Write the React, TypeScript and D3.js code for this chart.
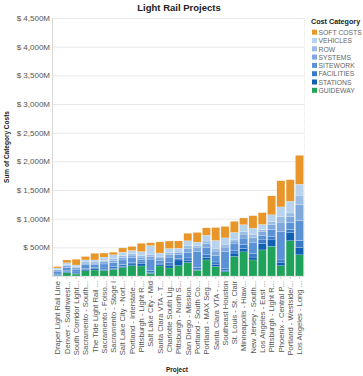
import * as d3 from "d3";
import { useEffect, useRef } from "react";

const projects = [
  "Draper Light Rail Line", "Denver - Southwest...", "South Corridor Light...", "Sacramento - South...",
  "The Tide Light Rail ...", "Sacramento - Folso...", "Sacramento - Stage I", "Salt Lake City - Nort...",
  "Portland - Interstate...", "Pittsburgh - Light R...", "Salt Lake City - Mid", "Santa Clara VTA - T...",
  "Charlotte South Lig...", "Pittsburgh - North S...", "San Diego - Mission...", "Portland - South Co...",
  "Portland - MAX Seg...", "Santa Clara VTA - ...", "Southeast Houston", "St. Louis - St. Clair",
  "Minneapolis - Hiaw...", "New Jersey - South...", "Los Angeles - East ...", "Pittsburgh - Light R...",
  "Phoenix - Central P...", "Portland - Westside/...", "Los Angeles - Long ...",
];

// stacking order, bottom to top
const categories = ["GUIDEWAY", "STATIONS", "FACILITIES", "SITEWORK", "SYSTEMS", "ROW", "VEHICLES", "SOFT COSTS"];
const colors = ["#1fa35b", "#0f5fb3", "#3a7bc8", "#5b92d6", "#7fa8dc", "#9bbde4", "#b8d3ee", "#e8962a"];

// values in $M, one per project
const guideway = [10, 60, 35, 90, 105, 95, 115, 145, 180, 175, 45, 175, 140, 180, 235, 100, 280, 165, 75, 340, 421, 280, 455, 515, 180, 615, 370];
const stations = [10, 20, 15, 25, 20, 20, 20, 25, 30, 40, 20, 20, 50, 100, 30, 20, 40, 30, 20, 60, 60, 50, 115, 115, 60, 140, 130];
const facilities = [15, 20, 20, 20, 20, 25, 25, 30, 30, 30, 30, 30, 40, 30, 50, 30, 50, 50, 30, 50, 70, 60, 60, 60, 40, 60, 120];
const sitework = [50, 50, 50, 60, 50, 70, 75, 80, 80, 45, 200, 50, 100, 60, 100, 280, 130, 110, 300, 110, 110, 200, 80, 120, 500, 120, 350];
const systems = [20, 30, 25, 30, 30, 40, 40, 45, 45, 40, 50, 40, 50, 40, 70, 60, 70, 80, 80, 50, 70, 80, 60, 90, 160, 100, 280];
const row = [10, 20, 17, 20, 20, 25, 30, 30, 25, 25, 35, 30, 30, 25, 40, 40, 40, 50, 50, 30, 47, 50, 40, 53, 100, 65, 160];
const vehicles = [25, 30, 30, 35, 35, 55, 65, 60, 55, 70, 150, 55, 70, 50, 90, 60, 100, 135, 110, 120, 117, 115, 90, 115, 165, 205, 190];
const softCosts = [25, 50, 100, 60, 115, 70, 45, 75, 70, 145, 50, 195, 130, 127, 130, 170, 130, 225, 200, 193, 117, 217, 205, 330, 456, 375, 505];

const yTicks = [500, 1000, 1500, 2000, 2500, 3000, 3500, 4000, 4500];

export default function App() {
  const ref = useRef<SVGSVGElement | null>(null);

  useEffect(() => {
    if (!ref.current) return;
    const svg = d3.select(ref.current);
    svg.selectAll("*").remove();

    const left = 53, right = 304, top = 18, bottom = 276;
    const font = "'Liberation Sans', Arial, sans-serif";

    const rows = projects.map((p, i) => ({
      project: i,
      GUIDEWAY: guideway[i], STATIONS: stations[i], FACILITIES: facilities[i], SITEWORK: sitework[i],
      SYSTEMS: systems[i], ROW: row[i], VEHICLES: vehicles[i], "SOFT COSTS": softCosts[i],
    }));

    const x = d3.scaleBand<number>().domain(d3.range(projects.length)).range([left, right]).paddingInner(0.13).paddingOuter(0.05);
    const y = d3.scaleLinear().domain([0, 4500]).range([bottom, top]);
    const color = d3.scaleOrdinal<string, string>().domain(categories).range(colors);

    // title
    svg.append("text")
      .attr("x", 179).attr("y", 11)
      .attr("text-anchor", "middle")
      .style("font-family", font).style("font-size", "9.5px").style("font-weight", "bold")
      .attr("fill", "#222")
      .text("Light Rail Projects");

    // gridlines
    svg.append("g")
      .selectAll("line")
      .data(yTicks)
      .enter()
      .append("line")
      .attr("x1", left).attr("x2", right)
      .attr("y1", d => y(d) + 0.5).attr("y2", d => y(d) + 0.5)
      .attr("stroke", "#e8e8e8").attr("stroke-width", 1);

    // right border + left axis
    svg.append("line").attr("x1", right + 0.5).attr("x2", right + 0.5).attr("y1", top).attr("y2", bottom)
      .attr("stroke", "#e6e6e6").attr("stroke-dasharray", "1,1");
    svg.append("line").attr("x1", left - 0.5).attr("x2", left - 0.5).attr("y1", top).attr("y2", bottom + 1)
      .attr("stroke", "#d8d8d8");
    svg.append("line").attr("x1", left).attr("x2", right).attr("y1", bottom + 0.5).attr("y2", bottom + 0.5)
      .attr("stroke", "#e2e2e2");

    // y tick labels
    svg.append("g")
      .selectAll("text")
      .data(yTicks)
      .enter()
      .append("text")
      .attr("x", 50).attr("y", d => y(d) + 3)
      .attr("text-anchor", "end")
      .style("font-family", font).style("font-size", "8px")
      .attr("fill", "#555")
      .text(d => `$ ${d3.format(",")(d)}M`);

    // y title
    svg.append("text")
      .attr("transform", `translate(9,${(top + bottom) / 2}) rotate(-90)`)
      .attr("text-anchor", "middle")
      .style("font-family", font).style("font-size", "6.5px").style("font-weight", "bold")
      .attr("fill", "#222")
      .text("Sum of Category Costs");

    // bars
    const series = d3.stack<any>().keys(categories)(rows);
    svg.append("g")
      .selectAll("g")
      .data(series)
      .enter()
      .append("g")
      .attr("fill", d => color(d.key))
      .selectAll("rect")
      .data(d => d)
      .enter()
      .append("rect")
      .attr("x", (d: any) => x(d.data.project)!)
      .attr("width", x.bandwidth())
      .attr("y", d => y(d[1]))
      .attr("height", d => Math.max(0, y(d[0]) - y(d[1])))
      .attr("stroke", "#fff").attr("stroke-width", 0.3).attr("stroke-opacity", 0.6);

    // x ticks
    svg.append("g")
      .selectAll("line")
      .data(d3.range(projects.length))
      .enter()
      .append("line")
      .attr("x1", d => x(d)! + x.bandwidth() / 2).attr("x2", d => x(d)! + x.bandwidth() / 2)
      .attr("y1", bottom + 1).attr("y2", bottom + 3)
      .attr("stroke", "#ccc");

    // x labels
    svg.append("g")
      .selectAll("text")
      .data(projects)
      .enter()
      .append("text")
      .attr("transform", (d, i) => `translate(${x(i)! + x.bandwidth() / 2 + 2.8},${bottom + 5}) rotate(-90)`)
      .attr("text-anchor", "end")
      .style("font-family", font).style("font-size", "7.6px")
      .attr("fill", "#555")
      .text(d => d);

    svg.append("text")
      .attr("x", 177).attr("y", 372)
      .attr("text-anchor", "middle")
      .style("font-family", font).style("font-size", "6.5px").style("font-weight", "bold")
      .attr("fill", "#222")
      .text("Project");

    // legend
    const legend = svg.append("g").attr("transform", "translate(311,0)");
    legend.append("text")
      .attr("x", 0).attr("y", 24)
      .style("font-family", font).style("font-size", "7.2px").style("font-weight", "bold")
      .attr("fill", "#222")
      .text("Cost Category");
    const items = categories.slice().reverse();
    const item = legend.selectAll("g.item")
      .data(items)
      .enter()
      .append("g")
      .attr("transform", (d, i) => `translate(0,${32.3 + i * 8.3})`);
    item.append("rect")
      .attr("x", 1).attr("y", -2.6).attr("width", 5).attr("height", 5)
      .attr("fill", d => color(d));
    item.append("text")
      .attr("x", 7.5).attr("y", 2.6)
      .style("font-family", font).style("font-size", "6.8px")
      .attr("fill", "#666")
      .text(d => d);
  }, []);

  return (
    <svg ref={ref} width={363} height={376}
      style={{ position: "absolute", left: 0, top: 0, background: "#fff" }} />
  );
}
